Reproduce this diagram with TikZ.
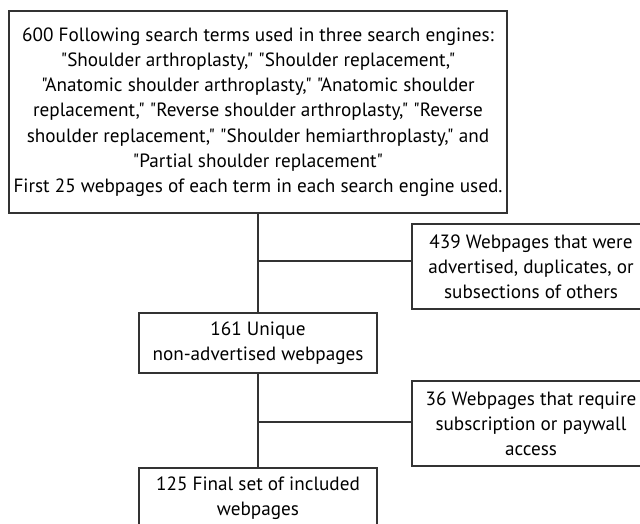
\documentclass[tikz,border=0pt]{standalone}
\usepackage{fontspec}
\setmainfont{PT Sans}[Ligatures=TeXOff]
\begin{document}
\begin{tikzpicture}[x=1pt,y=-1pt,
  box/.style={draw=black!80, line width=1.2pt, align=center, inner sep=0pt, font=\fontsize{19.2}{25.2}\selectfont},
  link/.style={draw=black!80, line width=1.2pt}]
\clip (0,0) rectangle (640,524);
\fill[white] (0,0) rectangle (640,524);
\node[box, minimum width=498, minimum height=202] (top) at (258,112) {600 Following search terms used in three search engines:\\
"Shoulder arthroplasty," "Shoulder replacement,"\\
"Anatomic shoulder arthroplasty," "Anatomic shoulder\\
replacement," "Reverse shoulder arthroplasty," "Reverse\\
shoulder replacement," "Shoulder hemiarthroplasty," and\\
"Partial shoulder replacement"\\
First 25 webpages of each term in each search engine used.};
\node[box, minimum width=238, minimum height=85] (ex1) at (531,266.5) {439 Webpages that were\\advertised, duplicates, or\\subsections of others};
\node[box, minimum width=238, minimum height=60] (uniq) at (258,343) {161 Unique\\non-advertised webpages};
\node[box, minimum width=238, minimum height=85] (ex2) at (531,423.5) {36 Webpages that require\\subscription or paywall\\access};
\node[box, minimum width=238, minimum height=60] (final) at (258,498) {125 Final set of included\\webpages};
\coordinate (j1) at (258,261);
\coordinate (j2) at (258,422);
\draw[link] (top.south) -- (uniq.north);
\draw[link] (j1) -- (j1 -| ex1.west);
\draw[link] (uniq.south) -- (final.north);
\draw[link] (j2) -- (j2 -| ex2.west);
\end{tikzpicture}
\end{document}
